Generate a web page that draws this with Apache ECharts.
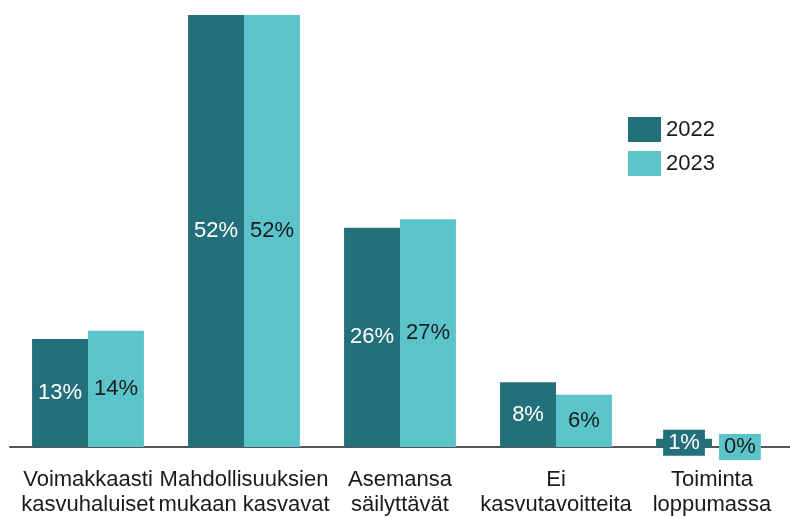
<!DOCTYPE html>
<html><head><meta charset="utf-8">
<script src="https://cdn.jsdelivr.net/npm/echarts@6/dist/echarts.min.js"></script>
<style>html,body{margin:0;padding:0;background:#fff}#c{width:790px;height:517px}</style>
</head><body><div id="c"></div>
<script>
const categories = ['Voimakkaasti\nkasvuhaluiset', 'Mahdollisuuksien\nmukaan kasvavat', 'Asemansa\nsäilyttävät', 'Ei\nkasvutavoitteita', 'Toiminta\nloppumassa'];
const seriesNames = ['2022', '2023'];
const values2022 = [13, 52, 26.4, 7.8, 1];
const values2023 = [14, 52, 27.4, 6.3, 0];
const colors = ['#23707a', '#5bc4ca'];
const labelColors = ['#ffffff', '#1a1a1a'];
const FONT = 'Liberation Sans, Arial, sans-serif';

function mk(name, data, i) {
  return {
    name: name, type: 'bar', data: data,
    barGap: '0%', barCategoryGap: '28.3%',
    itemStyle: { color: colors[i] },
    label: {
      show: true, position: 'inside',
      formatter: p => Math.round(p.value) + '%',
      color: labelColors[i], fontSize: 22, fontFamily: FONT,
      backgroundColor: colors[i], padding: [2, 5]
    }
  };
}
const chart = echarts.init(document.getElementById('c'));
chart.setOption({
  animation: false,
  grid: { left: 10, width: 788, top: 15, bottom: 65, containLabel: false },
  legend: {
    orient: 'vertical', left: 623, top: 112, itemWidth: 33, itemHeight: 25, itemGap: 9,
    icon: 'rect', data: seriesNames,
    textStyle: { fontSize: 22, color: '#1a1a1a', fontFamily: FONT }
  },
  xAxis: {
    type: 'category', data: categories,
    axisLine: { lineStyle: { color: '#555', width: 2 } },
    axisTick: { show: false },
    axisLabel: { interval: 0, fontSize: 22, lineHeight: 25, margin: 20, color: '#1a1a1a', fontFamily: FONT }
  },
  yAxis: { type: 'value', min: 0, max: 52, show: false, splitLine: { show: false } },
  series: [mk(seriesNames[0], values2022, 0), mk(seriesNames[1], values2023, 1)]
});
</script></body></html>
